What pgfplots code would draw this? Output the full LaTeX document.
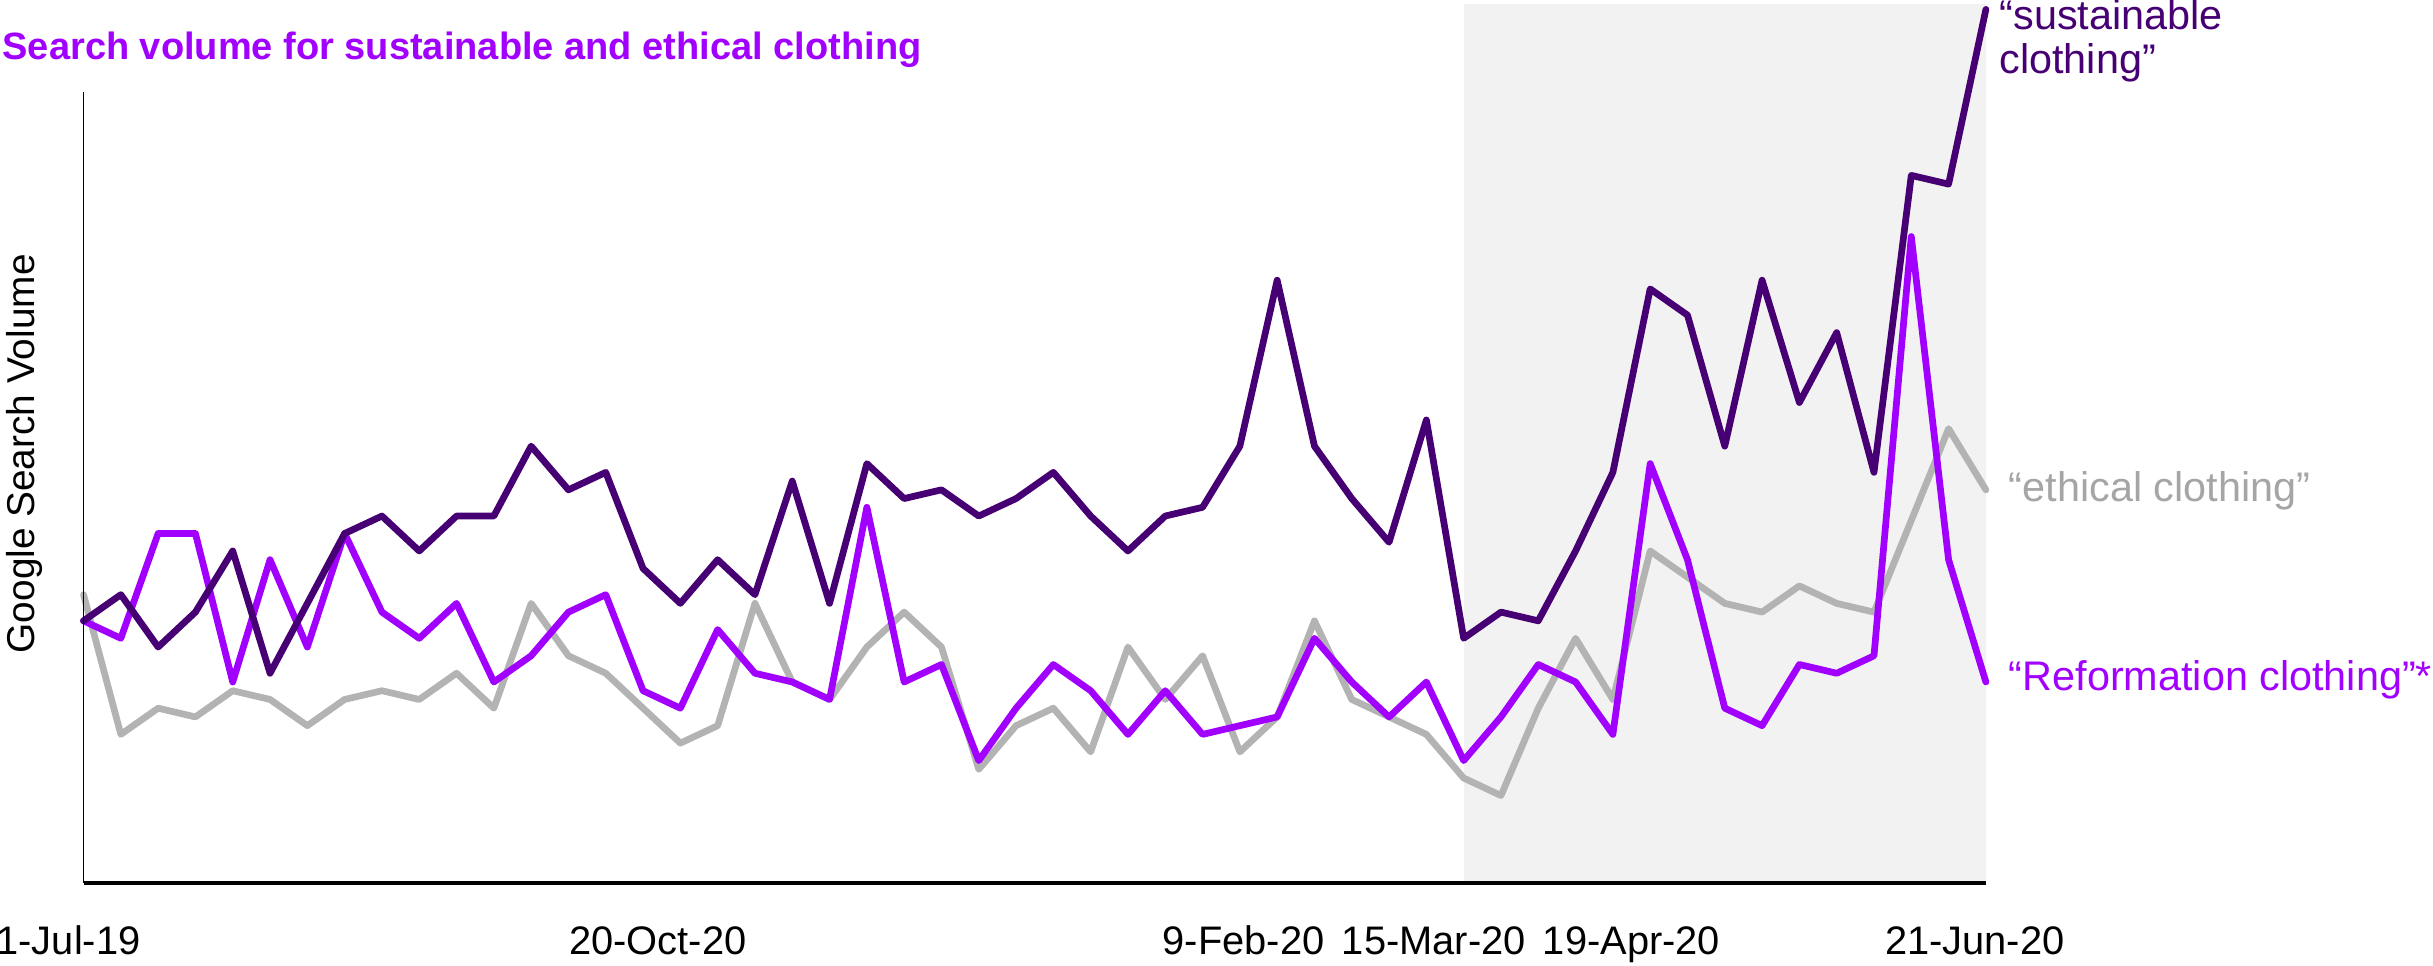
\documentclass[border=0pt]{standalone}
\usepackage{fontspec}
\setmainfont{Liberation Sans}
\usepackage{pgfplots}
\pgfplotsset{compat=1.18}
\definecolor{darkp}{HTML}{460073}
\definecolor{brightp}{HTML}{A100FF}
\definecolor{greyl}{HTML}{B3B3B3}
\definecolor{greytxt}{HTML}{A5A5A5}
\definecolor{shadebg}{HTML}{F2F2F2}
\begin{document}
\begin{tikzpicture}
\useasboundingbox (0,0) rectangle (470.4pt,186.6pt);
\begin{axis}[
  at={(16.15pt,15.9pt)}, anchor=origin,
  scale only axis, width=367.8pt, height=153pt,
  xmin=0, xmax=51, ymin=0, ymax=90.6,
  axis x line=bottom, axis y line=left,
  axis line style={-},
  x axis line style={line width=0.7pt},
  y axis line style={line width=0.35pt},
  ytick=\empty,
  xtick={0,15.4,31.1,36.2,41.5,50.7},
  xticklabels={\hspace*{-5.8pt}1-Jul-19,20-Oct-20,9-Feb-20,15-Mar-20,19-Apr-20,21-Jun-20},
  major tick length=0pt,
  xticklabel style={anchor=base, yshift=-13.8pt, font=\fontsize{7.7}{9}\selectfont},
  /pgf/number format/assume math mode=true,
  clip=false,
  axis on top,
]
\fill[shadebg] (axis cs:37,0) rectangle (axis cs:51,100.6);
% "ethical clothing"
\addplot[greyl, line width=1.3pt, line join=round, line cap=round, no markers] coordinates {
(0,33)(1,17)(2,20)(3,19)(4,22)(5,21)(6,18)(7,21)(8,22)(9,21)(10,24)(11,20)(12,32)(13,26)(14,24)(15,20)(16,16)(17,18)(18,32)(19,23)(20,21)(21,27)(22,31)(23,27)(24,13)(25,18)(26,20)(27,15)(28,27)(29,21)(30,26)(31,15)(32,19)(33,30)(34,21)(35,19)(36,17)(37,12)(38,10)(39,20)(40,28)(41,21)(42,38)(43,35)(44,32)(45,31)(46,34)(47,32)(48,31)(49,41.5)(50,52)(51,45)
};
% "Reformation clothing"
\addplot[brightp, line width=1.3pt, line join=round, line cap=round, no markers] coordinates {
(0,30)(1,28)(2,40)(3,40)(4,23)(5,37)(6,27)(7,40)(8,31)(9,28)(10,32)(11,23)(12,26)(13,31)(14,33)(15,22)(16,20)(17,29)(18,24)(19,23)(20,21)(21,43)(22,23)(23,25)(24,14)(25,20)(26,25)(27,22)(28,17)(29,22)(30,17)(31,18)(32,19)(33,28)(34,23)(35,19)(36,23)(37,14)(38,19)(39,25)(40,23)(41,17)(42,48)(43,37)(44,20)(45,18)(46,25)(47,24)(48,26)(49,74)(50,37)(51,23)
};
% "sustainable clothing"
\addplot[darkp, line width=1.3pt, line join=round, line cap=round, no markers] coordinates {
(0,30)(1,33)(2,27)(3,31)(4,38)(5,24)(6,32)(7,40)(8,42)(9,38)(10,42)(11,42)(12,50)(13,45)(14,47)(15,36)(16,32)(17,37)(18,33)(19,46)(20,32)(21,48)(22,44)(23,45)(24,42)(25,44)(26,47)(27,42)(28,38)(29,42)(30,43)(31,50)(32,69)(33,50)(34,44)(35,39)(36,53)(37,28)(38,31)(39,30)(40,38)(41,47)(42,68)(43,65)(44,50)(45,69)(46,55)(47,63)(48,47)(49,81)(50,80)(51,100)
};
\end{axis}
\node[anchor=base west, inner sep=0pt, text=brightp, font=\bfseries\fontsize{7.35}{9}\selectfont] at (0.3pt,175.1pt) {Search volume for sustainable and ethical clothing};
\node[anchor=base, rotate=90, inner sep=0pt, font=\fontsize{7.5}{9}\selectfont] at (6.6pt,98.85pt) {Google Search Volume};
\node[anchor=base west, inner sep=0pt, text=darkp, font=\fontsize{8}{9.6}\selectfont] at (386.4pt,180.9pt) {“sustainable};
\node[anchor=base west, inner sep=0pt, text=darkp, font=\fontsize{8}{9.6}\selectfont] at (386.4pt,172.3pt) {clothing”};
\node[anchor=base west, inner sep=0pt, text=greytxt, font=\fontsize{8}{9.6}\selectfont] at (388.2pt,89.6pt) {“ethical clothing”};
\node[anchor=base west, inner sep=0pt, text=brightp, font=\fontsize{8}{9.6}\selectfont] at (388.2pt,53.1pt) {“Reformation clothing”*};
\end{tikzpicture}
\end{document}
